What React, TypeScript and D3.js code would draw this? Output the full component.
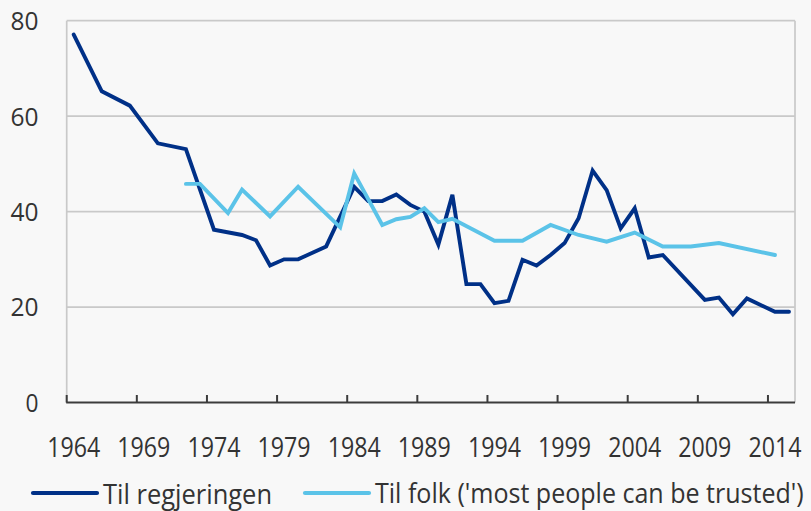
import React, { useLayoutEffect, useRef, useState } from "react";
import * as d3 from "d3";

const W = 811;
const H = 511;

const categories: number[] = d3.range(1964, 2016);
const tickYears: number[] = [1964, 1969, 1974, 1979, 1984, 1989, 1994, 1999, 2004, 2009, 2014];
const yTicks: number[] = [0, 20, 40, 60, 80];

const govYears: number[] = [1964, 1966, 1968, 1970, 1972, 1974, 1976, 1977, 1978, 1979, 1980, 1982, 1984, 1985, 1986, 1987, 1988, 1989, 1990, 1991, 1992, 1993, 1994, 1995, 1996, 1997, 1998, 1999, 2000, 2001, 2002, 2003, 2004, 2005, 2006, 2009, 2010, 2011, 2012, 2014, 2015];
const govValues: number[] = [77.1, 65.2, 62.2, 54.3, 53.1, 36.2, 35.1, 34.0, 28.7, 30.0, 30.0, 32.7, 45.2, 42.2, 42.2, 43.6, 41.4, 40.0, 33.1, 43.5, 24.8, 24.8, 20.8, 21.3, 29.9, 28.7, 30.9, 33.4, 38.6, 48.6, 44.5, 36.5, 40.7, 30.4, 30.9, 21.5, 22.0, 18.5, 21.8, 19.0, 19.0];

const folkYears: number[] = [1972, 1973, 1975, 1976, 1978, 1980, 1983, 1984, 1986, 1987, 1988, 1989, 1990, 1991, 1994, 1996, 1998, 2000, 2002, 2004, 2006, 2008, 2010, 2014];
const folkValues: number[] = [45.8, 45.8, 39.7, 44.6, 39.0, 45.2, 36.7, 48.0, 37.2, 38.4, 38.9, 40.7, 37.8, 38.5, 33.9, 33.9, 37.2, 35.1, 33.7, 35.6, 32.7, 32.7, 33.4, 30.9];

const seriesNames: string[] = ["Til regjeringen", "Til folk ('most people can be trusted')"];
const seriesColors: string[] = ["#003087", "#5bc3e8"];

const FONT = "'Open Sans', 'Noto Sans', sans-serif";
const TEXT = "#333333";

function FitText(props: { x: number; y: number; width: number; fontSize: number; children: string }) {
  const ref = useRef<SVGTextElement>(null);
  const [sx, setSx] = useState(0.84);
  useLayoutEffect(() => {
    if (ref.current) {
      const w = ref.current.getComputedTextLength();
      if (w > 0) setSx(props.width / w);
    }
  }, [props.width, props.children]);
  return (
    <g transform={`translate(${props.x},${props.y}) scale(${sx},1)`}>
      <text ref={ref} x={0} y={0} fontSize={props.fontSize} fill={TEXT}>
        {props.children}
      </text>
    </g>
  );
}

export default function App() {
  const left = 66.7;
  const right = 796;
  const top = 20.7;
  const bottom = 402.5;

  const x = d3.scaleBand<number>().domain(categories).range([left, right]).paddingInner(0).paddingOuter(0);
  const y = d3.scaleLinear().domain([0, 80]).range([bottom, top]);
  const cx = (yr: number) => (x(yr) as number) + x.bandwidth() / 2;

  const line = d3
    .line<[number, number]>()
    .x((d) => cx(d[0]))
    .y((d) => y(d[1]));

  const govData: [number, number][] = govYears.map((yr, i) => [yr, govValues[i]]);
  const folkData: [number, number][] = folkYears.map((yr, i) => [yr, folkValues[i]]);

  const frameRight = 795;

  return (
    <svg
      width={W}
      height={H}
      style={{ position: "fixed", left: 0, top: 0, background: "#f8f8f8" }}
      fontFamily={FONT}
    >
      <rect x={0} y={0} width={W} height={H} fill="#f8f8f8" />
      {yTicks.filter((t) => t > 0).map((t) => (
        <line key={t} x1={left} x2={frameRight} y1={y(t)} y2={y(t)} stroke="#c9c9c9" strokeWidth={1.7} />
      ))}
      <line x1={left} x2={left} y1={top} y2={bottom} stroke="#c9c9c9" strokeWidth={1.7} />
      <line x1={frameRight} x2={frameRight} y1={top} y2={bottom} stroke="#c9c9c9" strokeWidth={1.7} />
      {yTicks.map((t) => (
        <text
          key={t}
          x={38.5}
          y={y(t)}
          dy="0.36em"
          textAnchor="end"
          fontSize={26}
          fill={TEXT}
          textLength={t === 0 ? 13 : 28}
          lengthAdjust="spacingAndGlyphs"
        >
          {t}
        </text>
      ))}
      <path d={line(govData) || ""} fill="none" stroke={seriesColors[0]} strokeWidth={3.9} strokeLinejoin="miter" strokeLinecap="round" />
      <path d={line(folkData) || ""} fill="none" stroke={seriesColors[1]} strokeWidth={3.9} strokeLinejoin="miter" strokeLinecap="round" />
      <line x1={left - 0.5} x2={frameRight} y1={bottom} y2={bottom} stroke="#3c3c3c" strokeWidth={2} />
      {tickYears.map((yr) => (
        <g key={yr}>
          <line x1={x(yr) as number} x2={x(yr) as number} y1={bottom} y2={bottom - 7.5} stroke="#3c3c3c" strokeWidth={2} />
          <text
            x={cx(yr)}
            y={456.5}
            textAnchor="middle"
            fontSize={27}
            fill={TEXT}
            textLength={53}
            lengthAdjust="spacingAndGlyphs"
          >
            {yr}
          </text>
        </g>
      ))}
      <line x1={33} x2={97} y1={493} y2={493} stroke={seriesColors[0]} strokeWidth={4.2} strokeLinecap="round" />
      <FitText x={103} y={503.5} width={169} fontSize={27}>
        {seriesNames[0]}
      </FitText>
      <line x1={305} x2={369} y1={493} y2={493} stroke={seriesColors[1]} strokeWidth={4.2} strokeLinecap="round" />
      <FitText x={375} y={503} width={429} fontSize={26.5}>
        {seriesNames[1]}
      </FitText>
    </svg>
  );
}
